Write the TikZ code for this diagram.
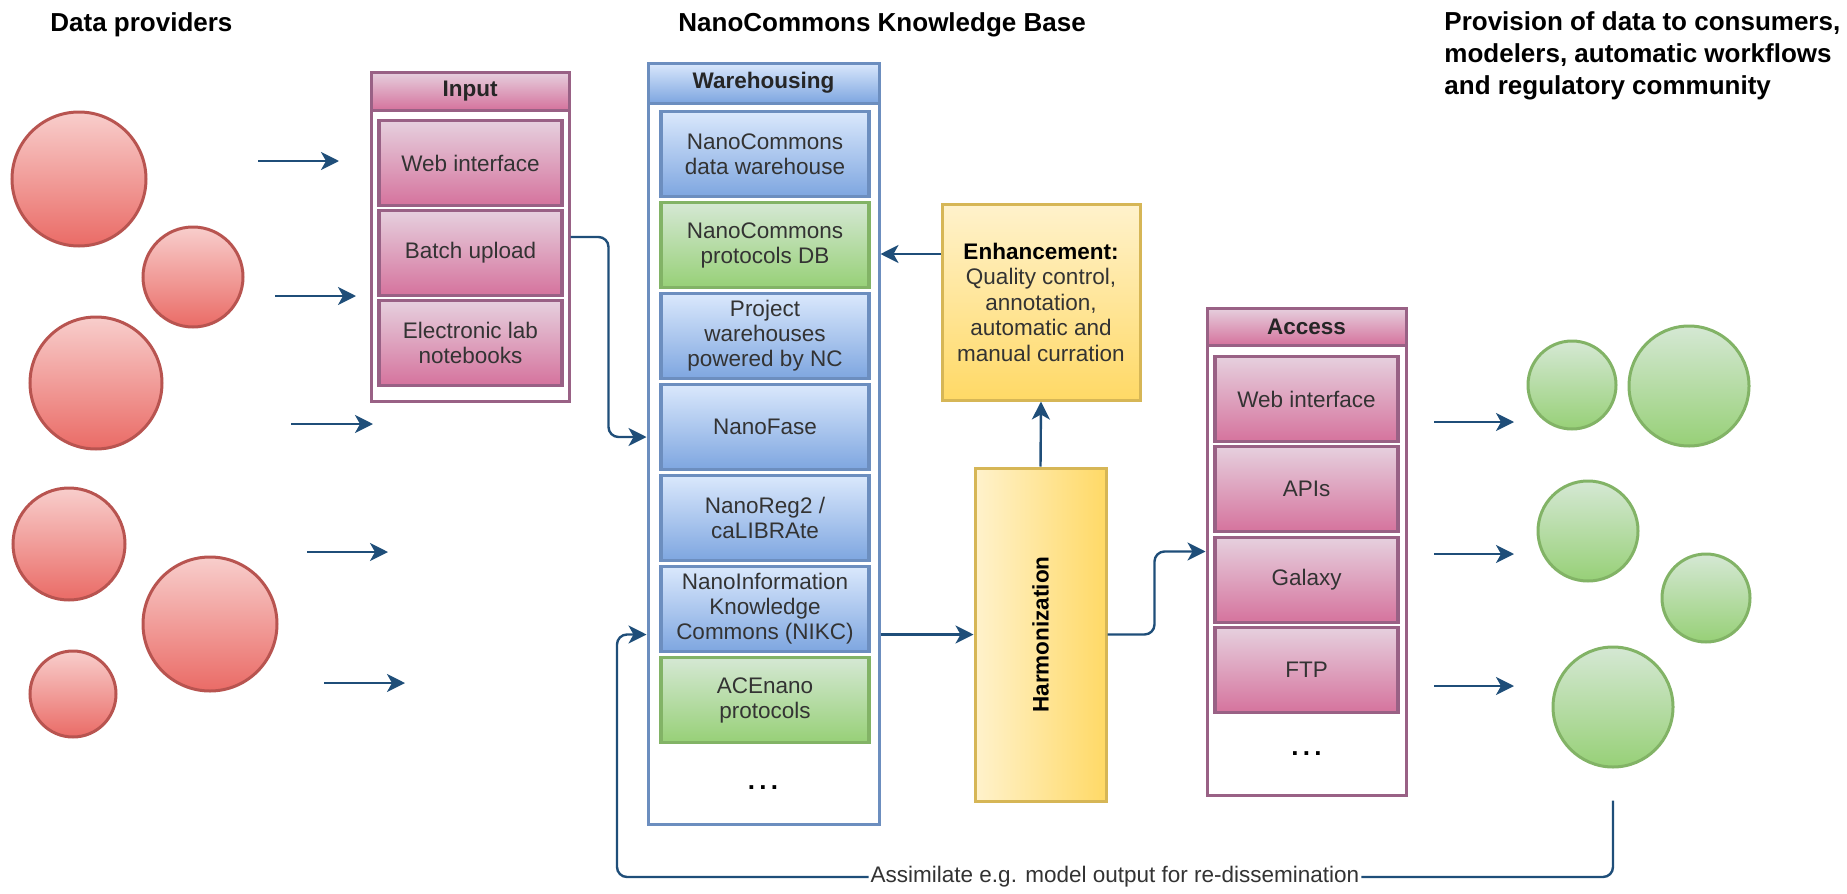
\documentclass[tikz,border=0pt]{standalone}
\usepackage{fontspec}
\usepackage{graphicx}
\setmainfont{Liberation Sans}
\usetikzlibrary{arrows.meta}

\definecolor{redtop}{HTML}{F8CECC}
\definecolor{redbot}{HTML}{EA6B66}
\definecolor{redline}{HTML}{B85450}
\definecolor{greentop}{HTML}{D5E8D4}
\definecolor{greenbot}{HTML}{97D077}
\definecolor{greenline}{HTML}{82B366}
\definecolor{pinktop}{HTML}{E6D0DE}
\definecolor{pinkbot}{HTML}{D5739D}
\definecolor{pinkline}{HTML}{996185}
\definecolor{bluetop}{HTML}{DAE8FC}
\definecolor{bluebot}{HTML}{7EA6E0}
\definecolor{blueline}{HTML}{6C8EBF}
\definecolor{yellowtop}{HTML}{FFF2CC}
\definecolor{yellowbot}{HTML}{FFD966}
\definecolor{yellowline}{HTML}{D6B656}
\definecolor{navy}{HTML}{1F4E79}
\definecolor{textgray}{HTML}{333333}

\tikzset{
	heading/.style={inner sep=0pt, font=\fontsize{13}{16}\selectfont\bfseries},
	provider/.style={circle, draw=redline, line width=1.5pt, top color=redtop, bottom color=redbot, inner sep=0pt, minimum size=#1},
	consumer/.style={circle, draw=greenline, line width=1.5pt, top color=greentop, bottom color=greenbot, inner sep=0pt, minimum size=#1},
	lane/.style={rectangle, line width=1.5pt, fill=white, inner sep=0pt},
	lanehead/.style={rectangle, line width=1.5pt, inner sep=0pt, text=black!85, font=\fontsize{11.25}{12.5}\selectfont\bfseries},
	item/.style={rectangle, line width=1.75pt, inner sep=2pt, align=center, text=textgray, minimum height=42.5pt, font=\fontsize{11.25}{12.5}\selectfont},
	pinkbox/.style={item, draw=pinkline, top color=pinktop, bottom color=pinkbot, minimum width=91.5pt},
	bluebox/.style={item, draw=blueline, top color=bluetop, bottom color=bluebot, minimum width=104pt},
	greenbox/.style={item, draw=greenline, top color=greentop, bottom color=greenbot, minimum width=104pt},
	dots/.style={inner sep=0pt, font=\fontsize{13}{16}\selectfont\bfseries},
	flow/.style={draw=navy, line width=1.2pt, rounded corners=5pt, -{Stealth[length=9pt,width=9pt,inset=2.5pt]}},
	assim/.style={fill=white, inner sep=1pt, text=textgray, font=\fontsize{11.25}{12.5}\selectfont}
}

\begin{document}
\begin{tikzpicture}[x=0.5pt,y=-0.5pt]
	\useasboundingbox (0,0) rectangle (1847,894);
	% titles
	\node[heading, anchor=west] (provtitle) at (50,25) {Data providers};
	\node[heading, anchor=west] (kbtitle) at (678,25) {NanoCommons Knowledge Base};
	\node[heading, anchor=west, align=left] (contitle) at (1444,56) {Provision of data to consumers,\\modelers, automatic workflows\\and regulatory community};

	% data providers
	\node[provider=67pt] (prov1) at (79,179) {};
	\node[provider=50pt] (prov2) at (193,277) {};
	\node[provider=66pt] (prov3) at (96,383) {};
	\node[provider=56pt] (prov4) at (69,544) {};
	\node[provider=67pt] (prov5) at (210,624) {};
	\node[provider=43pt] (prov6) at (73,694) {};

	% input
	\node[lane, draw=pinkline, minimum width=99pt, minimum height=164.5pt] (inlane) at (470,236.5) {};
	\node[lanehead, draw=pinkline, top color=pinktop, bottom color=pinkbot, minimum width=99pt, minimum height=19pt] (inhead) at (470,91) {Input};
	\node[pinkbox] (webin) at (470.5,163) {Web interface};
	\node[pinkbox] (batch) at (470.5,253) {Batch upload};
	\node[pinkbox] (eln) at (470.5,343) {Electronic lab\\notebooks};

	% warehousing
	\node[lane, draw=blueline, minimum width=115.5pt, minimum height=380.5pt] (wlane) at (763.5,443.5) {};
	\node[lanehead, draw=blueline, top color=bluetop, bottom color=bluebot, minimum width=115.5pt, minimum height=20pt] (whead) at (763.5,83) {Warehousing};
	\node[bluebox] (ncdw) at (765,154) {NanoCommons\\data warehouse};
	\node[greenbox] (protodb) at (765,245) {NanoCommons\\protocols DB};
	\node[bluebox] (projwh) at (765,336) {Project\\warehouses\\powered by NC};
	\node[bluebox] (nanofase) at (765,427) {NanoFase};
	\node[bluebox] (nanoreg) at (765,518) {NanoReg2 /\\caLIBRAte};
	\node[bluebox] (nikc) at (765,609) {NanoInformation\\Knowledge\\Commons (NIKC)};
	\node[greenbox] (acenano) at (765,700) {ACEnano\\protocols};
	\node[dots] (wdots) at (763,788) {.\,.\,.};

	% enhancement and harmonization
	\node[rectangle, draw=yellowline, line width=1.5pt, top color=yellowtop, bottom color=yellowbot, minimum width=99pt, minimum height=98pt, align=center, text=textgray, font=\fontsize{11.25}{12.75}\selectfont] (enh) at (1041,302) {\textcolor{black}{\textbf{Enhancement:}}\\Quality control,\\annotation,\\automatic and\\manual curration};
	\node[rectangle, draw=yellowline, line width=1.5pt, left color=yellowtop, right color=yellowbot, minimum width=65.5pt, minimum height=166.5pt, font=\fontsize{11.25}{12.5}\selectfont\bfseries] (harm) at (1040.5,634.5) {\rotatebox{90}{Harmonization}};

	% access
	\node[lane, draw=pinkline, minimum width=99.5pt, minimum height=243.5pt] (alane) at (1306.5,551.5) {};
	\node[lanehead, draw=pinkline, top color=pinktop, bottom color=pinkbot, minimum width=99.5pt, minimum height=18.5pt] (ahead) at (1306.5,326.5) {Access};
	\node[pinkbox] (webout) at (1306.5,399) {Web interface};
	\node[pinkbox] (apis) at (1306.5,489) {APIs};
	\node[pinkbox] (galaxy) at (1306.5,580) {Galaxy};
	\node[pinkbox] (ftp) at (1306.5,670) {FTP};
	\node[dots] (adots) at (1306.5,754) {.\,.\,.};

	% consumers
	\node[consumer=44pt] (cons1) at (1572,385) {};
	\node[consumer=60pt] (cons2) at (1689,386) {};
	\node[consumer=50pt] (cons3) at (1588,531) {};
	\node[consumer=44pt] (cons4) at (1706,598) {};
	\node[consumer=60pt] (cons5) at (1613,707) {};

	% free arrows
	\coordinate (in1) at (258,161); \coordinate (in1e) at (339,161);
	\coordinate (in2) at (275,296); \coordinate (in2e) at (356,296);
	\coordinate (in3) at (291,424); \coordinate (in3e) at (373,424);
	\coordinate (in4) at (307,552); \coordinate (in4e) at (388,552);
	\coordinate (in5) at (324,683); \coordinate (in5e) at (405,683);
	\coordinate (out1) at (1434,422); \coordinate (out1e) at (1514,422);
	\coordinate (out2) at (1434,554); \coordinate (out2e) at (1514,554);
	\coordinate (out3) at (1434,686); \coordinate (out3e) at (1514,686);
	\draw[flow] (in1) -- (in1e);
	\draw[flow] (in2) -- (in2e);
	\draw[flow] (in3) -- (in3e);
	\draw[flow] (in4) -- (in4e);
	\draw[flow] (in5) -- (in5e);
	\draw[flow] (out1) -- (out1e);
	\draw[flow] (out2) -- (out2e);
	\draw[flow] (out3) -- (out3e);

	% connections
	\draw[flow] ([yshift=8pt]batch.east -| inlane.east) -- ++(19pt,0pt) |- ([yshift=-5pt]nanofase.west -| wlane.west);
	\draw[flow] ([yshift=-4.5pt]protodb.east -| enh.west) -- ([yshift=-4.5pt]protodb.east -| wlane.east);
	\draw[flow] (harm.north) -- (enh.south);
	\draw[flow] (harm.west -| wlane.east) -- (harm.west);
	\draw[flow] (harm.east) -- ++(23.5pt,0pt) |- (alane.west);
	\coordinate (loopcorner) at (617,877);
	\draw[flow] ([yshift=-16pt]cons5.south) |- node[assim, pos=0.75] {Assimilate e.g. model output for re-dissemination} (loopcorner) |- (harm.west -| wlane.west);
\end{tikzpicture}
\end{document}
